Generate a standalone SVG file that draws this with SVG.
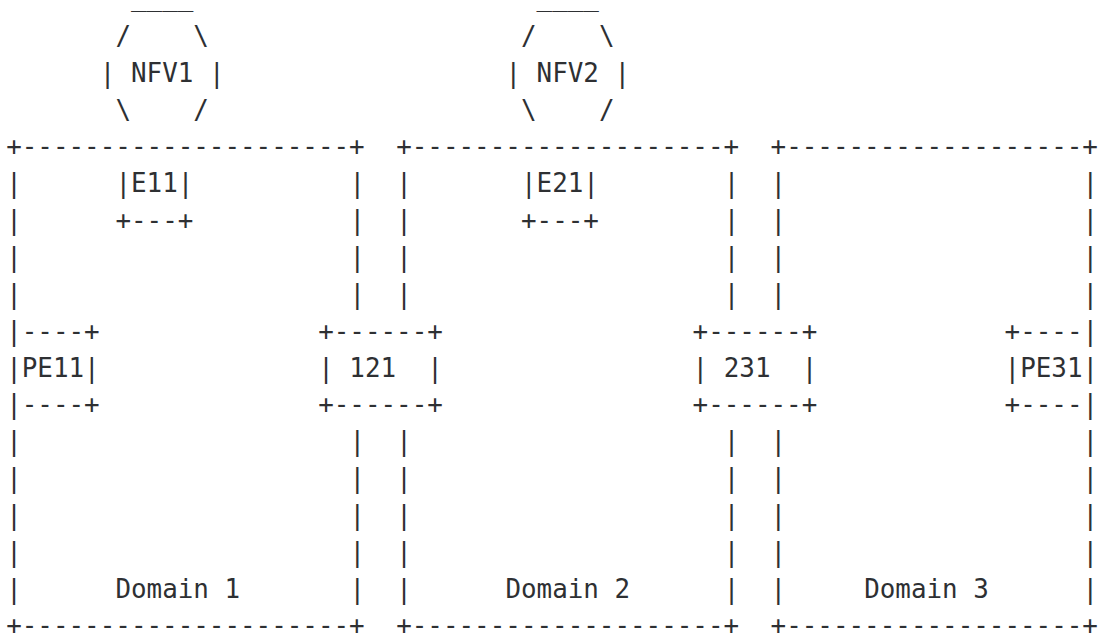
<svg xmlns="http://www.w3.org/2000/svg" width="1100" height="636" viewBox="0 0 1100 636" xml:space="preserve">
<style>
text{font-family:"DejaVu Sans Mono","Liberation Mono",monospace;font-size:25.9px;fill:#2e3033;white-space:pre}
</style>
<rect width="1100" height="636" fill="#ffffff"/>
<g id="nfv1">
<text x="131.0" y="6">____</text>
<text x="115.4" y="44.85">/    \</text>
<text x="99.8" y="81.7">| NFV1 |</text>
<text x="115.4" y="118.55">\    /</text>
</g>
<g id="nfv2">
<text x="536.6" y="6">____</text>
<text x="521.0" y="44.85">/    \</text>
<text x="505.4" y="81.7">| NFV2 |</text>
<text x="521.0" y="118.55">\    /</text>
</g>
<g id="domain1">
<text x="6.2" y="155.4">+---------------------+</text>
<text><tspan x="6.2" y="192.25">|</tspan><tspan x="6.2" y="229.1">|</tspan><tspan x="6.2" y="265.95">|</tspan><tspan x="6.2" y="302.8">|</tspan><tspan x="6.2" y="450.2">|</tspan><tspan x="6.2" y="487.05">|</tspan><tspan x="6.2" y="523.9">|</tspan><tspan x="6.2" y="560.75">|</tspan><tspan x="6.2" y="597.6">|</tspan></text>
<text><tspan x="349.4" y="192.25">|</tspan><tspan x="349.4" y="229.1">|</tspan><tspan x="349.4" y="265.95">|</tspan><tspan x="349.4" y="302.8">|</tspan><tspan x="349.4" y="450.2">|</tspan><tspan x="349.4" y="487.05">|</tspan><tspan x="349.4" y="523.9">|</tspan><tspan x="349.4" y="560.75">|</tspan><tspan x="349.4" y="597.6">|</tspan></text>
<text x="115.4" y="597.6">Domain 1</text>
<text x="6.2" y="634.45">+---------------------+</text>
</g>
<g id="domain2">
<text x="396.2" y="155.4">+--------------------+</text>
<text><tspan x="396.2" y="192.25">|</tspan><tspan x="396.2" y="229.1">|</tspan><tspan x="396.2" y="265.95">|</tspan><tspan x="396.2" y="302.8">|</tspan><tspan x="396.2" y="450.2">|</tspan><tspan x="396.2" y="487.05">|</tspan><tspan x="396.2" y="523.9">|</tspan><tspan x="396.2" y="560.75">|</tspan><tspan x="396.2" y="597.6">|</tspan></text>
<text><tspan x="723.8" y="192.25">|</tspan><tspan x="723.8" y="229.1">|</tspan><tspan x="723.8" y="265.95">|</tspan><tspan x="723.8" y="302.8">|</tspan><tspan x="723.8" y="450.2">|</tspan><tspan x="723.8" y="487.05">|</tspan><tspan x="723.8" y="523.9">|</tspan><tspan x="723.8" y="560.75">|</tspan><tspan x="723.8" y="597.6">|</tspan></text>
<text x="505.4" y="597.6">Domain 2</text>
<text x="396.2" y="634.45">+--------------------+</text>
</g>
<g id="domain3">
<text x="770.6" y="155.4">+-------------------+</text>
<text><tspan x="770.6" y="192.25">|</tspan><tspan x="770.6" y="229.1">|</tspan><tspan x="770.6" y="265.95">|</tspan><tspan x="770.6" y="302.8">|</tspan><tspan x="770.6" y="450.2">|</tspan><tspan x="770.6" y="487.05">|</tspan><tspan x="770.6" y="523.9">|</tspan><tspan x="770.6" y="560.75">|</tspan><tspan x="770.6" y="597.6">|</tspan></text>
<text><tspan x="1082.6" y="192.25">|</tspan><tspan x="1082.6" y="229.1">|</tspan><tspan x="1082.6" y="265.95">|</tspan><tspan x="1082.6" y="302.8">|</tspan><tspan x="1082.6" y="450.2">|</tspan><tspan x="1082.6" y="487.05">|</tspan><tspan x="1082.6" y="523.9">|</tspan><tspan x="1082.6" y="560.75">|</tspan><tspan x="1082.6" y="597.6">|</tspan></text>
<text x="864.2" y="597.6">Domain 3</text>
<text x="770.6" y="634.45">+-------------------+</text>
</g>
<g id="e11">
<text x="115.4" y="192.25">|E11|</text>
<text x="115.4" y="229.1">+---+</text>
</g>
<g id="e21">
<text x="521.0" y="192.25">|E21|</text>
<text x="521.0" y="229.1">+---+</text>
</g>
<g id="pe11">
<text x="6.2" y="339.65">|----+</text>
<text x="6.2" y="376.5">|PE11|</text>
<text x="6.2" y="413.35">|----+</text>
</g>
<g id="n121">
<text x="318.2" y="339.65">+------+</text>
<text x="318.2" y="376.5">| 121  |</text>
<text x="318.2" y="413.35">+------+</text>
</g>
<g id="n231">
<text x="692.6" y="339.65">+------+</text>
<text x="692.6" y="376.5">| 231  |</text>
<text x="692.6" y="413.35">+------+</text>
</g>
<g id="pe31">
<text x="1004.6" y="339.65">+----|</text>
<text x="1004.6" y="376.5">|PE31|</text>
<text x="1004.6" y="413.35">+----|</text>
</g>
<g id="connectors"/>
</svg>
